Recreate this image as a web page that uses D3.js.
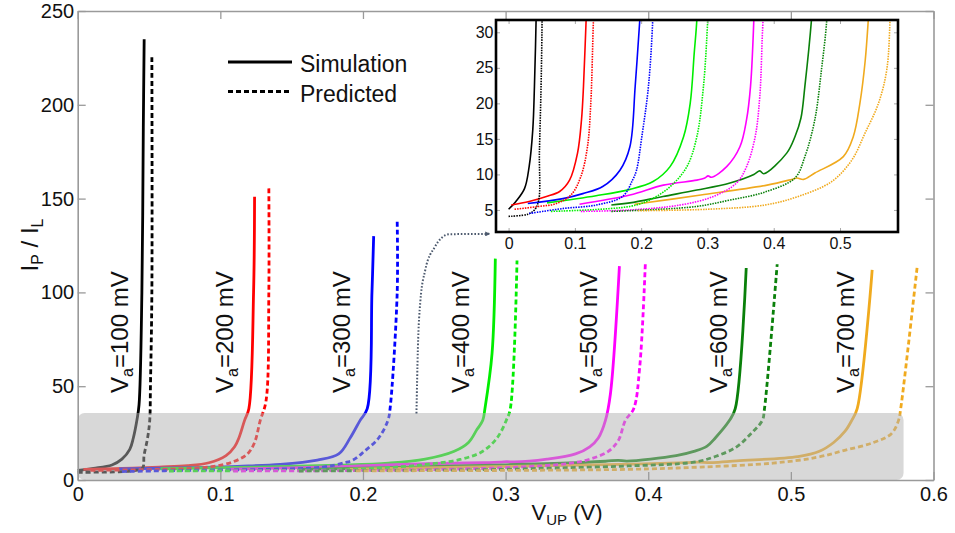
<!DOCTYPE html>
<html>
<head>
<meta charset="utf-8">
<script src="https://cdn.jsdelivr.net/npm/d3@7"></script>
<style>
  body { margin: 0; background: #fff; }
  svg { display: block; font-family: "Liberation Sans", Arial, sans-serif; }
</style>
</head>
<body>
<div id="chart"></div>
<script>
// Applied voltage of each curve pair (mV) and its colour
const va = [100, 200, 300, 400, 500, 600, 700];
const seriesColors = ["#000000", "#ff0000", "#0000ff", "#00ee00", "#ff00ff", "#0a800a", "#f0aa1e"];

// Simulation curves: [V_UP (V), I_P / I_L]
const sim100 = [[0, 5.1], [0.011, 6.2], [0.024, 8.0], [0.031, 11.1], [0.0365, 16.3], [0.039, 22.4], [0.0415, 31.8], [0.043, 40], [0.045, 100], [0.046, 188], [0.0466, 235]];
const sim200 = [[0.004, 5.7], [0.031, 6.2], [0.057, 6.9], [0.077, 7.6], [0.092, 9.2], [0.104, 13], [0.110, 17.7], [0.113, 22.4], [0.117, 31.8], [0.120, 38], [0.1233, 100], [0.124, 151]];
const sim300 = [[0.029, 5.9], [0.082, 6.6], [0.112, 7.3], [0.142, 8.3], [0.168, 10.6], [0.183, 13.9], [0.191, 22.4], [0.198, 31.8], [0.203, 38], [0.2063, 100], [0.2075, 130]];
const sim400 = [[0.058, 6.0], [0.132, 7.0], [0.183, 7.9], [0.218, 9.0], [0.2436, 11.1], [0.264, 15.3], [0.274, 20], [0.280, 27], [0.284, 31.8], [0.2855, 38], [0.2905, 67.5], [0.2928, 118]];
const sim500 = [[0.107, 5.8], [0.183, 7.1], [0.2335, 8.5], [0.284, 9.2], [0.296, 9.5], [0.301, 9.8], [0.306, 9.6], [0.329, 11.1], [0.349, 13.9], [0.359, 17.7], [0.365, 22.4], [0.370, 31.8], [0.3735, 46], [0.3798, 114]];
const sim600 = [[0.155, 5.7], [0.183, 6.0], [0.233, 6.9], [0.284, 7.8], [0.334, 8.8], [0.370, 10.0], [0.379, 10.5], [0.385, 10.1], [0.4196, 13], [0.432, 15.3], [0.441, 17.9], [0.447, 22.4], [0.457, 31.8], [0.461, 38], [0.4687, 113]];
const sim700 = [[0.19, 5.8], [0.29, 7.1], [0.39, 8.5], [0.427, 9.3], [0.435, 9.5], [0.445, 9.3], [0.462, 10.2], [0.505, 12.5], [0.520, 15.3], [0.530, 20], [0.538, 26], [0.5427, 31.8], [0.5465, 38], [0.557, 112]];

// Predicted curves
const pred100 = [[0, 4.1], [0.029, 4.4], [0.039, 5.0], [0.0455, 6.4], [0.0465, 13], [0.049, 22.4], [0.0505, 31.8], [0.051, 50], [0.052, 100], [0.052, 226.5]];
const pred200 = [[0.009, 5.1], [0.046, 5.5], [0.072, 5.9], [0.094, 7.1], [0.109, 9.7], [0.119, 13.9], [0.124, 20], [0.128, 31.8], [0.132, 42], [0.134, 100], [0.134, 157]];
const pred300 = [[0.031, 4.5], [0.082, 5.2], [0.132, 5.7], [0.172, 6.9], [0.187, 9.2], [0.193, 10.6], [0.201, 15.3], [0.211, 22.4], [0.2175, 31.8], [0.219, 38], [0.224, 100], [0.224, 137.7]];
const pred400 = [[0.064, 4.8], [0.183, 5.5], [0.213, 6.4], [0.244, 8.3], [0.269, 11.1], [0.284, 15.3], [0.294, 22.4], [0.3005, 31.8], [0.3033, 38], [0.308, 117]];
const pred500 = [[0.109, 4.8], [0.183, 5.0], [0.259, 5.7], [0.309, 6.9], [0.344, 8.8], [0.359, 11.1], [0.372, 15.3], [0.379, 21], [0.384, 31.8], [0.3898, 38], [0.394, 60], [0.398, 116]];
const pred600 = [[0.155, 4.8], [0.183, 4.9], [0.284, 5.5], [0.334, 6.4], [0.386, 7.5], [0.432, 9.5], [0.447, 12.5], [0.462, 17.7], [0.472, 24.7], [0.480, 31.8], [0.4815, 38], [0.4904, 115]];
const pred700 = [[0.195, 4.9], [0.30, 5.1], [0.387, 5.7], [0.437, 6.9], [0.4875, 9.0], [0.5177, 12], [0.5377, 15.8], [0.558, 20], [0.5705, 24.7], [0.5755, 31.8], [0.577, 38], [0.5886, 114]];

const simCurves = [sim100, sim200, sim300, sim400, sim500, sim600, sim700];
const predCurves = [pred100, pred200, pred300, pred400, pred500, pred600, pred700];

// Tick values
const xTicks = [0, 0.1, 0.2, 0.3, 0.4, 0.5, 0.6];
const yTicks = [0, 50, 100, 150, 200, 250];
const insetXTicks = [0, 0.1, 0.2, 0.3, 0.4, 0.5];
const insetYTicks = [5, 10, 15, 20, 25, 30];

// Annotations (data units of the main axes)
const labelV = [0.0353, 0.109, 0.191, 0.274, 0.364, 0.455, 0.544];
const labelI = 46.4;
const shadeRight = 0.579, shadeTop = 35.7;
const arrowPts = [[0.2375, 35.5], [0.2385, 70], [0.2402, 95], [0.2437, 112], [0.2502, 124], [0.2605, 131], [0.2885, 131.2]];

const width = 955, height = 533;
const frameColor = "#9a9a9a";
const fmt = d3.format("");

const svg = d3.select("#chart").append("svg")
    .attr("width", width)
    .attr("height", height)
    .attr("viewBox", [0, 0, width, height]);

const defs = svg.append("defs");
defs.append("marker")
    .attr("id", "arrowhead")
    .attr("viewBox", "0 0 10 10")
    .attr("refX", 8).attr("refY", 5)
    .attr("markerWidth", 5).attr("markerHeight", 5)
    .attr("markerUnits", "userSpaceOnUse")
    .attr("orient", "auto")
    .append("path")
    .attr("d", "M0,0L10,5L0,10z")
    .attr("fill", "#4d5a6e");

// Main scales
const x = d3.scaleLinear([0, 0.6], [77.7, 933.5]);
const y = d3.scaleLinear([0, 250], [480, 11]);

const line = d3.line()
    .x(d => x(d[0]))
    .y(d => y(d[1]))
    .curve(d3.curveCatmullRom.alpha(0.5));

// Main curves
const gMain = svg.append("g").attr("fill", "none").attr("stroke-width", 2.8);
simCurves.forEach((c, i) => {
    gMain.append("path").attr("d", line(c)).attr("stroke", seriesColors[i]);
});
predCurves.forEach((c, i) => {
    gMain.append("path").attr("d", line(c)).attr("stroke", seriesColors[i])
        .attr("stroke-dasharray", "5,3");
});

// Shaded overlay marking the zoomed region
svg.append("rect")
    .attr("x", x(0))
    .attr("y", y(shadeTop))
    .attr("width", x(shadeRight) - x(0))
    .attr("height", y(0) - y(shadeTop))
    .attr("rx", 7)
    .attr("fill", "#b2b2b2")
    .attr("fill-opacity", 0.5);

// Axes with inward ticks on all sides
const styleAxis = (g, size) => {
    g.select(".domain").attr("stroke", frameColor).attr("stroke-width", 1.6);
    g.selectAll(".tick line").attr("stroke", frameColor).attr("stroke-width", 1.3);
    g.selectAll(".tick text").attr("fill", "#111").attr("font-size", size)
        .attr("font-family", "'Liberation Sans', Arial, sans-serif");
};

svg.append("g")
    .attr("transform", `translate(0,${y(0)})`)
    .call(d3.axisBottom(x).tickValues(xTicks).tickFormat(fmt).tickSizeInner(-8).tickSizeOuter(0).tickPadding(6.5))
    .call(g => styleAxis(g, 20));
svg.append("g")
    .attr("transform", `translate(0,${y(250)})`)
    .call(d3.axisTop(x).tickValues(xTicks).tickFormat("").tickSizeInner(-8).tickSizeOuter(0))
    .call(g => styleAxis(g, 20));
svg.append("g")
    .attr("transform", `translate(${x(0)},0)`)
    .call(d3.axisLeft(y).tickValues(yTicks).tickSizeInner(-8).tickSizeOuter(0).tickPadding(3.5))
    .call(g => styleAxis(g, 20));
svg.append("g")
    .attr("transform", `translate(${x(0.6)},0)`)
    .call(d3.axisRight(y).tickValues(yTicks).tickFormat("").tickSizeInner(-8).tickSizeOuter(0))
    .call(g => styleAxis(g, 20));

// Axis titles
const xt = svg.append("text")
    .attr("x", 567).attr("y", 520)
    .attr("text-anchor", "middle")
    .attr("font-size", 22)
    .attr("fill", "#111");
xt.append("tspan").text("V");
xt.append("tspan").attr("font-size", 15).attr("dy", 5).text("UP");
xt.append("tspan").attr("dy", -5).text(" (V)");

const yt = svg.append("text")
    .attr("transform", `translate(38,245) rotate(-90)`)
    .attr("text-anchor", "middle")
    .attr("font-size", 24)
    .attr("fill", "#111");
yt.append("tspan").text("I");
yt.append("tspan").attr("font-size", 16).attr("dy", 5).text("P");
yt.append("tspan").attr("dy", -5).text(" / I");
yt.append("tspan").attr("font-size", 16).attr("dy", 5).text("L");

// Va labels
labelV.forEach((v, i) => {
    const t = svg.append("text")
        .attr("transform", `translate(${x(v)},${y(labelI)}) rotate(-90)`)
        .attr("font-size", 24)
        .attr("fill", "#111");
    t.append("tspan").text("V");
    t.append("tspan").attr("font-size", 16).attr("dy", 5).text("a");
    t.append("tspan").attr("dy", -5).text(`=${va[i]} mV`);
});

// Legend
const legend = svg.append("g");
[["Simulation", null], ["Predicted", "5,3"]].forEach(([name, dash], i) => {
    const ly = 62 + i * 29.5;
    legend.append("line")
        .attr("x1", 228).attr("x2", 292)
        .attr("y1", ly).attr("y2", ly)
        .attr("stroke", "#000").attr("stroke-width", 3)
        .attr("stroke-dasharray", dash);
    legend.append("text")
        .attr("x", 300).attr("y", ly + 10)
        .attr("font-size", 23)
        .attr("fill", "#111")
        .text(name);
});

// Dotted arrow from shaded region to inset
svg.append("path")
    .attr("d", d3.line().x(d => x(d[0])).y(d => y(d[1])).curve(d3.curveMonotoneX)(arrowPts))
    .attr("fill", "none")
    .attr("stroke", "#4d5a6e")
    .attr("stroke-width", 2)
    .attr("stroke-dasharray", "1.6,1.8")
    .attr("marker-end", "url(#arrowhead)");

// Inset
const ix = d3.scaleLinear([-0.019, 0.5875], [496, 898]);
const iy = d3.scaleLinear([1.9, 31.73], [232, 20]);

defs.append("clipPath").attr("id", "inset-clip")
    .append("rect")
    .attr("x", ix.range()[0]).attr("y", iy.range()[1])
    .attr("width", ix.range()[1] - ix.range()[0])
    .attr("height", iy.range()[0] - iy.range()[1]);

const gInset = svg.append("g");
gInset.append("rect")
    .attr("x", ix.range()[0]).attr("y", iy.range()[1])
    .attr("width", ix.range()[1] - ix.range()[0])
    .attr("height", iy.range()[0] - iy.range()[1])
    .attr("fill", "#fff");

const iline = d3.line()
    .x(d => ix(d[0]))
    .y(d => iy(d[1]))
    .curve(d3.curveCatmullRom.alpha(0.5));

const gInsetLines = gInset.append("g")
    .attr("clip-path", "url(#inset-clip)")
    .attr("fill", "none")
    .attr("stroke-width", 1.6);
simCurves.forEach((c, i) => {
    gInsetLines.append("path").attr("d", iline(c)).attr("stroke", seriesColors[i]);
});
predCurves.forEach((c, i) => {
    gInsetLines.append("path").attr("d", iline(c)).attr("stroke", seriesColors[i])
        .attr("stroke-dasharray", "1.5,1.1");
});

const styleInsetAxis = g => {
    g.select(".domain").remove();
    g.selectAll(".tick line").attr("stroke", "#aaa").attr("stroke-width", 1);
    g.selectAll(".tick text").attr("fill", "#111").attr("font-size", 16)
        .attr("font-family", "'Liberation Sans', Arial, sans-serif");
};
gInset.append("g")
    .attr("transform", `translate(0,${iy.range()[0]})`)
    .call(d3.axisBottom(ix).tickValues(insetXTicks).tickFormat(fmt).tickSizeInner(-4).tickSizeOuter(0).tickPadding(5.5))
    .call(styleInsetAxis);
gInset.append("g")
    .attr("transform", `translate(0,${iy.range()[1]})`)
    .call(d3.axisTop(ix).tickValues(insetXTicks).tickFormat("").tickSizeInner(-4).tickSizeOuter(0))
    .call(styleInsetAxis);
gInset.append("g")
    .attr("transform", `translate(${ix.range()[0]},0)`)
    .call(d3.axisLeft(iy).tickValues(insetYTicks).tickSizeInner(-4).tickSizeOuter(0).tickPadding(2.5))
    .call(styleInsetAxis);
gInset.append("g")
    .attr("transform", `translate(${ix.range()[1]},0)`)
    .call(d3.axisRight(iy).tickValues(insetYTicks).tickFormat("").tickSizeInner(-4).tickSizeOuter(0))
    .call(styleInsetAxis);

gInset.append("rect")
    .attr("x", ix.range()[0]).attr("y", iy.range()[1])
    .attr("width", ix.range()[1] - ix.range()[0])
    .attr("height", iy.range()[0] - iy.range()[1])
    .attr("fill", "none")
    .attr("stroke", "#000")
    .attr("stroke-width", 2.6);
</script>
</body>
</html>
